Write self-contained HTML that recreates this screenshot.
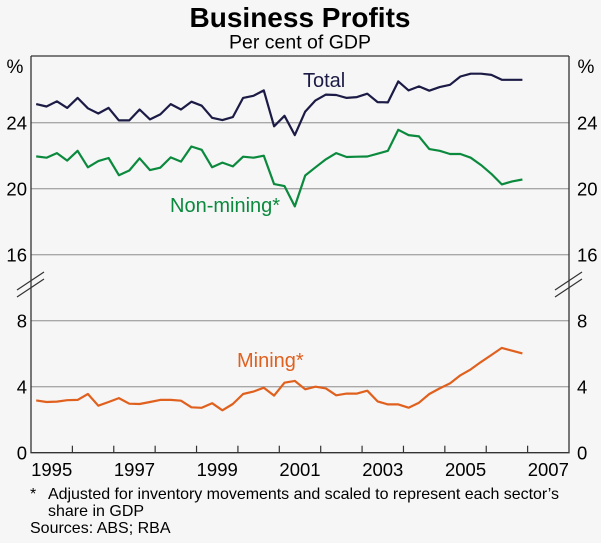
<!DOCTYPE html>
<html><head><meta charset="utf-8"><style>
html,body{margin:0;padding:0;background:#f6f6f6;}
svg{display:block;font-family:"Liberation Sans",Arial,sans-serif;}
</style></head><body>
<svg id="chart" width="601" height="543" viewBox="0 0 601 543">
<rect x="0" y="0" width="601" height="543" fill="#f6f6f6"/>
<text x="300" y="27" text-anchor="middle" font-size="28" font-weight="bold" fill="#000">Business Profits</text>
<text x="300" y="48.5" text-anchor="middle" font-size="19.5" fill="#000">Per cent of GDP</text>
<g id="grid"></g>
<g id="series"></g>
<g id="axes"></g>
<text x="15" y="73" text-anchor="middle" font-size="19">%</text>
<text x="586" y="73" text-anchor="middle" font-size="19">%</text>
<text x="303" y="87" font-size="20" fill="#1b1b45">Total</text>
<text x="170" y="212" font-size="20" fill="#0b8a3e">Non-mining*</text>
<text x="237" y="367" font-size="20" fill="#e0601e">Mining*</text>
<text x="30" y="499" font-size="16">*</text>
<text x="48" y="499" font-size="16" textLength="511">Adjusted for inventory movements and scaled to represent each sector’s</text>
<text x="48" y="516" font-size="16">share in GDP</text>
<text x="30" y="533" font-size="16">Sources: ABS; RBA</text>
</svg>
<script>
const totalValues=[25.13,24.98,25.3,24.9,25.5,24.87,24.56,24.9,24.14,24.14,24.8,24.2,24.5,25.13,24.8,25.27,25.03,24.3,24.16,24.34,25.5,25.63,25.96,23.78,24.42,23.25,24.67,25.35,25.7,25.68,25.5,25.55,25.76,25.25,25.23,26.5,25.96,26.2,25.94,26.16,26.3,26.8,26.97,26.97,26.9,26.6,26.6,26.6];
const nonMiningValues=[21.96,21.88,22.16,21.7,22.3,21.3,21.67,21.86,20.82,21.1,21.84,21.13,21.27,21.9,21.64,22.56,22.36,21.3,21.58,21.35,21.94,21.88,22.0,20.28,20.16,18.93,20.8,21.3,21.78,22.16,21.92,21.94,21.95,22.12,22.3,23.57,23.25,23.17,22.4,22.3,22.1,22.1,21.88,21.43,20.9,20.26,20.44,20.56];
const miningValues=[3.17,3.07,3.1,3.18,3.2,3.56,2.85,3.07,3.31,2.97,2.95,3.07,3.2,3.2,3.15,2.75,2.72,3.0,2.57,2.95,3.56,3.7,3.94,3.46,4.24,4.35,3.84,4.0,3.9,3.48,3.58,3.58,3.76,3.11,2.93,2.93,2.73,3.03,3.56,3.9,4.2,4.69,5.05,5.5,5.92,6.35,6.18,6.02];
const startYear=1995;
const yearTickLabels=[1995,1997,1999,2001,2003,2005,2007];
const topTicks=[16,20,24];
const bottomTicks=[0,4,8];

const NS="http://www.w3.org/2000/svg";
const L=31,R=569,PT=56,PB=452.7;
const pxPerYear=(R-L)/13;
const xYear=t=>L+(t-startYear)*pxPerYear;
const xQ=i=>xYear(startYear+(i+0.5)/4);
const unit=16.5;
const yTop=v=>PB-(v-4)*unit;
const yBot=v=>PB-v*unit;
function mk(tag,attrs,parent){const e=document.createElementNS(NS,tag);for(const k in attrs)e.setAttribute(k,attrs[k]);parent.appendChild(e);return e;}
const grid=document.getElementById('grid'),series=document.getElementById('series'),axes=document.getElementById('axes');

topTicks.forEach(v=>{
  const y=yTop(v);
  const g=mk('line',{x1:L,x2:R,y1:y,y2:y,stroke:'#a8a8a8','stroke-width':1.3},grid);
  
  
  const t1=mk('text',{x:27,y:y+7,'text-anchor':'end','font-size':18.5},axes);t1.textContent=v;
  
  
  const t2=mk('text',{x:577,y:y+7,'font-size':18.5},axes);t2.textContent=v;
  
  
});
bottomTicks.forEach(v=>{
  const y=yBot(v);
  if(v>0){const g=mk('line',{x1:L,x2:R,y1:y,y2:y,stroke:'#a8a8a8','stroke-width':1.3},grid);
  
  }
  const t1=mk('text',{x:27,y:y+7,'text-anchor':'end','font-size':18.5},axes);t1.textContent=v;
  
  
  const t2=mk('text',{x:577,y:y+7,'font-size':18.5},axes);t2.textContent=v;
  
  
});
const fr=mk('path',{d:`M${L},${PT} H${R} M${L},${PT} V${PB} H${R} V${PT}`,stroke:'#333',fill:'none','stroke-width':1.3},axes);


[[L,'left'],[R,'right']].forEach(([x,s])=>{
  const b=mk('path',{d:`M${x-14},${290} L${x+13},${272} M${x-14},${297} L${x+13},${279}`,stroke:'#333','stroke-width':1.2,fill:'none'},axes);
  
  
});
for(let y=startYear+1;y<startYear+13;y++){
  const x=xYear(y);
  const tk=mk('line',{x1:x,x2:x,y1:PB,y2:PB-7,stroke:'#333','stroke-width':1.2},axes);
  
  
}
yearTickLabels.forEach(yr=>{
  const t=mk('text',{x:xYear(yr+0.5),y:476,'text-anchor':'middle','font-size':18.5},axes);t.textContent=yr;
  
  
});
function line(vals,yf,color,name){
  const d=vals.map((v,i)=>(i?'L':'M')+xQ(i).toFixed(1)+','+yf(v).toFixed(1)).join(' ');
  const p=mk('path',{d:d,stroke:color,'stroke-width':2.2,fill:'none','stroke-linejoin':'round'},series);
  
  
}
line(totalValues,yTop,'#1b1b45','total-line');
line(nonMiningValues,yTop,'#0b8a3e','non-mining-line');
line(miningValues,yBot,'#e0601e','mining-line');
</script>
</body></html>
